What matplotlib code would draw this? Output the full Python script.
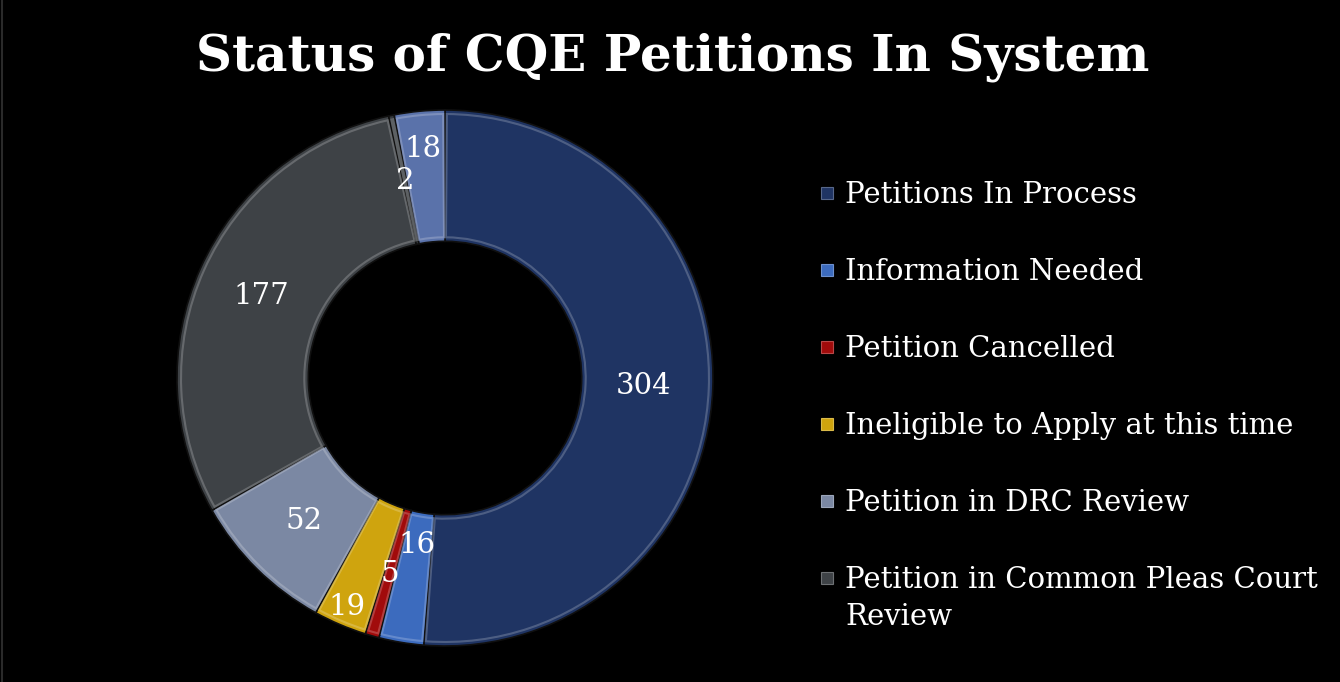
import matplotlib.pyplot as plt
import matplotlib.patches as patches
import numpy as np
from matplotlib.colors import to_rgb

# ------------------------------
# Data
# ------------------------------
values = [304, 16, 5, 19, 52, 177, 2, 18]
legend_labels = [
    "Petitions In Process",
    "Information Needed",
    "Petition Cancelled",
    "Ineligible to Apply at this time",
    "Petition in DRC Review",
    "Petition in Common Pleas Court\nReview",
]
colors = ["#1F3463", "#3C6BBE", "#A10B0B", "#CFA40E",
          "#7B88A3", "#3E4246", "#33373B", "#5A72AA"]

# radial position of each value label (fraction of outer radius)
label_r = [0.74, 0.63, 0.76, 0.93, 0.75, 0.75, 0.75, 0.86]

plt.rcParams['font.family'] = ['DejaVu Serif']

W, H = 1340, 682
fig = plt.figure(figsize=(W / 100, H / 100), dpi=100, facecolor='black')

def lighten(c, f):
    r, g, b = to_rgb(c)
    return (r + (1 - r) * f, g + (1 - g) * f, b + (1 - b) * f)

# ------------------------------
# Donut
# ------------------------------
ax = fig.add_axes([(445 - 300) / W, (H - 378 - 300) / H, 600 / W, 600 / H])
ax.set_facecolor('black')
R = 600 / (2 * 268)
wedges, _ = ax.pie(values, colors=colors, startangle=90, counterclock=False,
                   radius=1.0, wedgeprops=dict(width=0.49, edgecolor='#101010', linewidth=1.2))

# bevel-ish highlight inside each wedge
for w, c in zip(wedges, colors):
    inner = patches.Wedge((0, 0), 0.985, w.theta1 + 0.4, w.theta2 - 0.4, width=0.46,
                          facecolor='none', edgecolor=lighten(c, 0.3), linewidth=1.5, alpha=0.7)
    ax.add_patch(inner)

for w, v, r in zip(wedges, values, label_r):
    ang = np.deg2rad((w.theta1 + w.theta2) / 2)
    ax.text(r * np.cos(ang), r * np.sin(ang), str(v), color='white',
            fontsize=21, ha='center', va='center')

ax.set_xlim(-R, R)
ax.set_ylim(-R, R)
ax.set_aspect('equal')
ax.axis('off')

# ------------------------------
# Title
# ------------------------------
fig.text(0.502, 1 - 57 / H, "Status of CQE Petitions In System", color='white',
         fontsize=36, fontweight='bold', ha='center', va='center')

# ------------------------------
# Legend (drawn by hand so the marker sits on the first line)
# ------------------------------
for i, (lab, c) in enumerate(zip(legend_labels, colors)):
    yc = 193 + 77 * i
    fig.add_artist(patches.Rectangle((821 / W, 1 - (yc + 6) / H), 12 / W, 12 / H,
                                     transform=fig.transFigure, facecolor=c,
                                     edgecolor=lighten(c, 0.25), linewidth=0.8))
    for j, line in enumerate(lab.split("\n")):
        fig.text(845 / W, 1 - (yc + 10 + 37 * j) / H, line, color='white', fontsize=21,
                 ha='left', va='baseline')

fig.add_artist(plt.Line2D([1.5 / W, 1.5 / W], [0, 1], transform=fig.transFigure,
                          color='#2a2a2a', linewidth=1.5))

fig.savefig("out.png", dpi=100, facecolor='black')
